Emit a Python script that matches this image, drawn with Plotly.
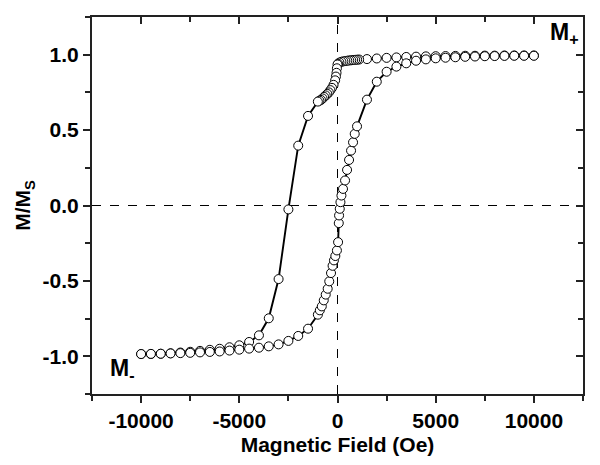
import plotly.graph_objects as go

# Descending branch (field from +10000 to -10000)
h_down = [10000, 9500, 9000, 8500, 8000, 7500, 7000, 6500, 6000, 5500, 5000, 4500, 4000,
          3500, 3000, 2500, 2000, 1500, 1100, 1000, 900, 800, 700, 600, 500, 400, 300, 200,
          100, 30, 0, -30, -50, -80, -120, -200, -280, -360, -440, -520, -600, -680, -760,
          -840, -920, -1000, -1500, -2000, -2500, -3000, -3500, -4000, -4500, -5000, -5500,
          -6000, -6500, -7000, -7500, -8000, -8500, -9000, -9500, -10000]
m_down = [0.995, 0.995, 0.995, 0.995, 0.994, 0.994, 0.993, 0.993, 0.992, 0.991, 0.990, 0.989,
          0.987, 0.985, 0.982, 0.979, 0.975, 0.971, 0.968, 0.967, 0.966, 0.965, 0.963, 0.962,
          0.960, 0.958, 0.956, 0.953, 0.948, 0.940, 0.935, 0.910, 0.880, 0.855, 0.830, 0.800,
          0.780, 0.765, 0.750, 0.740, 0.730, 0.720, 0.710, 0.700, 0.695, 0.689, 0.594, 0.397,
          -0.026, -0.488, -0.748, -0.861, -0.905, -0.927, -0.940, -0.950, -0.957, -0.964,
          -0.970, -0.975, -0.980, -0.983, -0.985, -0.985]

# Ascending branch (field from -10000 to +10000)
h_up = [-10000, -9500, -9000, -8500, -8000, -7500, -7000, -6500, -6000, -5500, -5000, -4500,
        -4000, -3500, -3000, -2500, -2000, -1500, -1000, -900, -800, -700, -600, -500, -420,
        -330, -250, -180, -110, -30, 30, 65, 80, 115, 150, 200, 280, 385, 487, 588, 690, 791,
        877, 994, 1500, 2000, 2500, 3000, 3500, 4000, 4500, 5000, 5500, 6000, 6500, 7000,
        7500, 8000, 8500, 9000, 9500, 10000]
m_up = [-0.985, -0.984, -0.983, -0.981, -0.979, -0.977, -0.974, -0.971, -0.968, -0.962,
        -0.956, -0.949, -0.943, -0.934, -0.921, -0.898, -0.865, -0.817, -0.724, -0.695,
        -0.669, -0.629, -0.591, -0.552, -0.503, -0.448, -0.400, -0.364, -0.335, -0.298,
        -0.243, -0.117, -0.066, -0.022, 0.022, 0.066, 0.110, 0.166, 0.236, 0.302, 0.364,
        0.419, 0.475, 0.525, 0.702, 0.821, 0.887, 0.921, 0.943, 0.960, 0.969, 0.976, 0.980,
        0.983, 0.986, 0.988, 0.990, 0.991, 0.992, 0.993, 0.993, 0.993]

x_ticks = [-10000, -5000, 0, 5000, 10000]
x_tick_text = ["-10000", "-5000", "0", "5000", "10000"]
y_ticks = [-1.0, -0.5, 0.0, 0.5, 1.0]
y_tick_text = ["-1.0", "-0.5", "0.0", "0.5", "1.0"]

FONT = "Liberation Sans, Arial, sans-serif"
AX = "#222222"

fig = go.Figure()
# descending branch on the main (bottom/left) axes,
# ascending branch on the mirrored (top/right) axes, which share the same ranges
for hx, my, xa, ya in [(h_down, m_down, "x", "y"), (h_up, m_up, "x2", "y2")]:
    fig.add_trace(go.Scatter(
        x=hx, y=my, mode="lines+markers", xaxis=xa, yaxis=ya,
        line=dict(color="black", width=1.9),
        marker=dict(symbol="circle", size=9, color="white",
                    line=dict(color="black", width=1)),
        showlegend=False, hoverinfo="skip"))

axis_common = dict(showgrid=False, zeroline=False, showline=True, linecolor=AX,
                   linewidth=2, tickcolor=AX, tickwidth=1.5, ticklen=7,
                   automargin=False)

fig.update_layout(
    width=600, height=465,
    margin=dict(l=84, r=25, t=9, b=79),
    paper_bgcolor="white", plot_bgcolor="white",
    font=dict(family=FONT, size=21, color="black"),
    xaxis=dict(range=[-12500, 12500], tickvals=x_ticks, ticktext=x_tick_text,
               ticks="outside",
               minor=dict(dtick=2500, tick0=0, ticks="outside", ticklen=5,
                          tickcolor=AX, tickwidth=1.5),
               tickfont=dict(family=FONT, size=21, color="black", weight="bold"),
               title=dict(text="<b>Magnetic Field (Oe)</b>", standoff=6,
                          font=dict(family=FONT, size=21, color="black")),
               **axis_common),
    yaxis=dict(range=[-1.25, 1.25], tickvals=y_ticks, ticktext=y_tick_text,
               ticks="outside",
               minor=dict(dtick=0.25, tick0=0, ticks="outside", ticklen=5,
                          tickcolor=AX, tickwidth=1.5),
               tickfont=dict(family=FONT, size=21, color="black", weight="bold"),
               title=dict(text="<b>M/M<sub>S</sub></b>", standoff=6,
                          font=dict(family=FONT, size=21, color="black")),
               **axis_common),
    xaxis2=dict(range=[-12500, 12500], overlaying="x", side="top", anchor="y2",
                tickvals=x_ticks, ticks="inside", showticklabels=False,
                minor=dict(dtick=2500, tick0=0, ticks="inside", ticklen=5,
                           tickcolor=AX, tickwidth=1.5),
                **axis_common),
    yaxis2=dict(range=[-1.25, 1.25], overlaying="y", side="right", anchor="x2",
                tickvals=y_ticks, ticks="inside", showticklabels=False,
                minor=dict(dtick=0.25, tick0=0, ticks="inside", ticklen=5,
                           tickcolor=AX, tickwidth=1.5),
                **axis_common),
    shapes=[
        dict(type="line", xref="x", yref="paper", x0=0, x1=0, y0=0, y1=1,
             line=dict(color="black", width=1, dash="dash"), layer="below"),
        dict(type="line", xref="paper", yref="y", x0=0, x1=1, y0=0, y1=0,
             line=dict(color="black", width=1, dash="dash"), layer="below"),
    ],
    annotations=[
        dict(text="<b>M<sub>+</sub></b>", xref="paper", yref="paper", x=0.962, y=0.955,
             xanchor="center", yanchor="middle", showarrow=False,
             font=dict(family=FONT, size=23, color="black")),
        dict(text="<b>M<sub>-</sub></b>", xref="paper", yref="paper", x=0.062, y=0.065,
             xanchor="center", yanchor="middle", showarrow=False,
             font=dict(family=FONT, size=23, color="black")),
    ],
)

fig.write_html("out.html")
